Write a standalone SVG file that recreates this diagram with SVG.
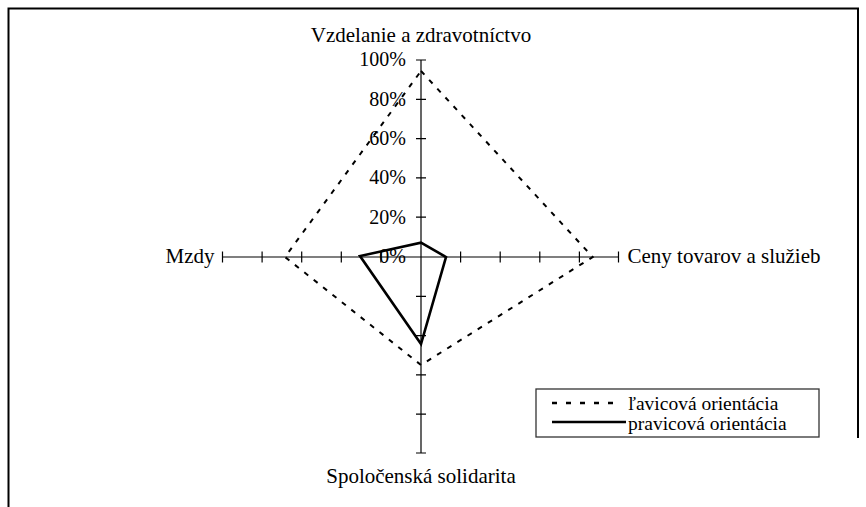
<svg xmlns="http://www.w3.org/2000/svg" width="866" height="507" viewBox="0 0 866 507">
<style>
text{font-family:"Liberation Serif","Times New Roman",serif;fill:#000}
.lbl{font-size:21px}
.leg{font-size:19.5px}
.tk{font-size:20px;text-anchor:end}
.ax{stroke:#000;stroke-width:1.2;fill:none}
.dash{stroke:#000;stroke-width:2;stroke-dasharray:5 7;fill:none}
.solid{stroke:#000;stroke-width:2.6;fill:none;stroke-linejoin:miter}
</style>
<rect width="866" height="507" fill="#fff"/>
<g id="frame" fill="none" stroke="#000" stroke-width="2">
<path d="M8.5,507 V8.5 H858 V438"/>
</g>
<g id="axes" class="ax">
<line x1="421" y1="60" x2="421" y2="453"/>
<line x1="222.5" y1="257" x2="618.5" y2="257"/>
<path d="M416,60H426M416,99.3H426M416,138.6H426M416,177.9H426M416,217.2H426M416,296.3H426M416,335.6H426M416,374.9H426M416,414.2H426M416,453H426"/>
<path d="M222.5,251.5V262.5M262.1,251.5V262.5M301.7,251.5V262.5M341.3,251.5V262.5M380.9,251.5V262.5M460.6,251.5V262.5M500.2,251.5V262.5M539.8,251.5V262.5M579.4,251.5V262.5M618.5,251.5V262.5"/>
</g>
<g id="ticklabels">
<text class="tk" x="406" y="66">100%</text>
<text class="tk" x="406" y="105.5">80%</text>
<text class="tk" x="406" y="145">60%</text>
<text class="tk" x="406" y="184">40%</text>
<text class="tk" x="406" y="223.5">20%</text>
<text class="tk" x="406" y="263">0%</text>
</g>
<g id="connectors">
<polygon id="lavicova" class="dash" points="421,71 592.7,257 421,365 285,257"/>
<polygon id="pravicova" class="solid" points="421,242.7 446,257 421,344 360,256"/>
</g>
<g id="node-vzdelanie"><text class="lbl" x="421" y="41.5" text-anchor="middle">Vzdelanie a zdravotníctvo</text></g>
<g id="node-ceny"><text class="lbl" x="627.5" y="263.3">Ceny tovarov a služieb</text></g>
<g id="node-solidarita"><text class="lbl" x="421" y="483.3" text-anchor="middle">Spoločenská solidarita</text></g>
<g id="node-mzdy"><text class="lbl" x="214.5" y="263.3" text-anchor="end">Mzdy</text></g>
<g id="legend">
<rect x="536" y="389" width="283" height="48" fill="#fff" stroke="#333" stroke-width="1.3"/>
<line x1="552" y1="403" x2="620" y2="403" stroke="#000" stroke-width="2.6" stroke-dasharray="5 9"/>
<line x1="552" y1="422" x2="626" y2="422" stroke="#000" stroke-width="2.6"/>
<text class="leg" x="628" y="409.5">ľavicová orientácia</text>
<text class="leg" x="628" y="430">pravicová orientácia</text>
</g>
</svg>
